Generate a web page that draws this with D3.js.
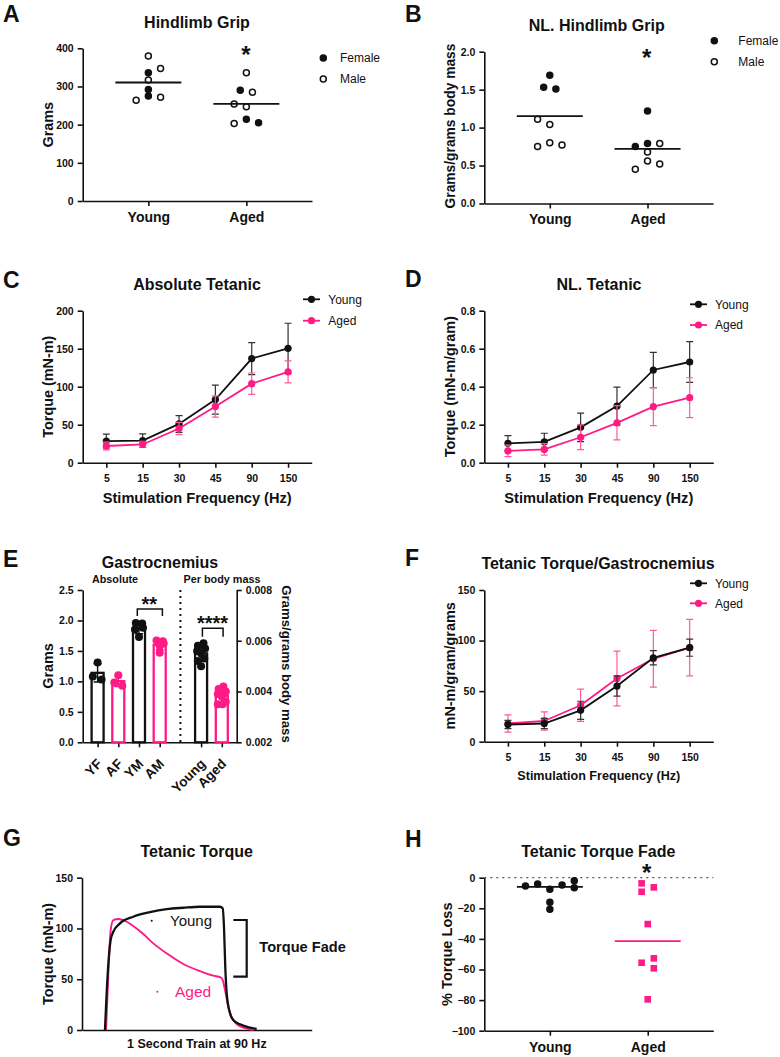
<!DOCTYPE html>
<html>
<head>
<meta charset="utf-8">
<title>Young vs aged muscle function</title>
<script src="https://cdn.jsdelivr.net/npm/d3@7/dist/d3.min.js"></script>
<style>
  body { margin: 0; background: #fff; overflow: hidden; }
  text { font-family: "Liberation Sans", Arial, sans-serif; }
  .axis path, .axis line { stroke: #111; stroke-width: 1.6px; }
  .axis text { font-family: "Liberation Sans", Arial, sans-serif; font-size: 10.5px; font-weight: bold; fill: #111; }
  .axis text.cat { font-size: 14px; }
  .axis text.rot { font-size: 13.6px; }
</style>
</head>
<body>
<svg id="fig" width="780" height="1057"></svg>
<script>
// ---- values ----
const groups = ["Young", "Aged"];
const freqs = ["5", "15", "30", "45", "90", "150"];

// A: hindlimb grip (grams), one value per mouse
const gripYoung     = [380, 336, 347, 317, 292, 275, 264, 272];
const gripYoungSex  = ["M", "F", "M", "M", "F", "F", "M", "M"];
const gripYoungSlot = [0, 0, 1, 0, 0, 0, -1, 1];
const gripAged      = [336, 290, 285, 254, 247, 203, 214, 205];
const gripAgedSex   = ["M", "F", "M", "M", "M", "M", "F", "F"];
const gripAgedSlot  = [0, -0.5, 0.5, -1, 0, -1, 0, 1];

// B: grip normalised to body mass
const nlGripYoung     = [1.69, 1.53, 1.51, 1.11, 1.04, 0.75, 0.80, 0.77];
const nlGripYoungSex  = ["F", "F", "F", "M", "M", "M", "M", "M"];
const nlGripYoungSlot = [0, -0.5, 0.5, -1, 0, -1, 0, 1];
const nlGripAged      = [1.22, 0.75, 0.79, 0.79, 0.68, 0.45, 0.56, 0.52];
const nlGripAgedSex   = ["F", "F", "F", "M", "M", "M", "M", "M"];
const nlGripAgedSlot  = [0, -1, 0, 1, 0, -1, 0, 1];

// C: absolute tetanic torque (mN-m), mean and SD per frequency
const absYoungMean = [28.5, 29, 51, 83, 137, 150.5];
const absYoungSD   = [9, 9, 11, 19, 21, 33];
const absAgedMean  = [22, 24, 45, 74, 104, 119.5];
const absAgedSD    = [5, 4, 8, 14, 14, 14.5];

// D: normalised tetanic torque (mN-m/gram)
const nlYoungMean = [0.102, 0.11, 0.186, 0.298, 0.488, 0.53];
const nlYoungSD   = [0.04, 0.045, 0.075, 0.1, 0.093, 0.107];
const nlAgedMean  = [0.062, 0.07, 0.134, 0.21, 0.295, 0.342];
const nlAgedSD    = [0.03, 0.03, 0.065, 0.09, 0.1, 0.105];

// E: gastrocnemius mass
const gastroCats = ["YF", "AF", "YM", "AM", "Young", "Aged"];
const gastroYF = [1.31, 1.08, 1.03];
const gastroAF = [1.10, 0.98, 0.93];
const gastroYM = [1.96, 1.95, 1.88, 1.85, 1.73];
const gastroAM = [1.67, 1.66, 1.62, 1.58, 1.47];
const gastroYoungNL = [0.0059, 0.0058, 0.0057, 0.0056, 0.0055, 0.0053, 0.0052, 0.0050];
const gastroAgedNL  = [0.0042, 0.0041, 0.0040, 0.0039, 0.0038, 0.0036, 0.0035, 0.0035];
const gastroYFSlot = [0, -0.6, 0.5];
const gastroAFSlot = [0, -0.5, 0.5];
const gastroYMSlot = [-0.4, 0.4, 0.5, -0.5, 0];
const gastroAMSlot = [-0.4, 0.4, 0.5, 0, 0];
const gastroYoungSlot = [0.3, -0.4, 0.5, -0.5, 0, 0.4, -0.4, 0];
const gastroAgedSlot  = [0.2, -0.4, 0.5, -0.5, 0, 0.5, -0.5, 0.1];

// F: tetanic torque per gastrocnemius mass
const perGYoungMean = [17, 18, 31, 55, 83, 93];
const perGYoungSD   = [4, 5, 9, 10, 7, 8.5];
const perGAgedMean  = [18, 20.5, 36, 62.5, 82, 93];
const perGAgedSD    = [8.5, 9, 16, 27, 28, 28];

// G: representative torque traces (time s, torque mN-m)
const traceYoungT      = [0.19, 0.215, 0.237, 0.259, 0.314, 0.424, 0.562, 0.70, 0.838, 0.976, 1.141, 1.164, 1.175, 1.185, 1.197, 1.224, 1.251, 1.307, 1.39, 1.445];
const traceYoungTorque = [0, 60, 88.6, 96.8, 105, 111.5, 116, 119, 120.4, 121.4, 121.4, 119.7, 99.7, 62.3, 36, 16.4, 9.8, 5.6, 2.3, 1];
const traceAgedT       = [0.199, 0.218, 0.237, 0.259, 0.30, 0.37, 0.424, 0.507, 0.59, 0.70, 0.838, 0.976, 1.086, 1.147, 1.164, 1.183, 1.21, 1.238, 1.279, 1.334, 1.417];
const traceAgedTorque  = [0, 55.8, 98.4, 108.3, 109.3, 106.6, 102.4, 94.5, 85.3, 75.5, 65, 58, 53.5, 51.9, 49.2, 39.4, 23, 13, 5.9, 2.3, 0];

// H: tetanic torque fade (% loss)
const fadeYoung     = [-5.4, -4.1, -7.6, -16.1, -20.7, -4.8, -2.0, -6.5];
const fadeYoungSlot = [-2, -1, 0, 0, 0, 1, 2, 2];
const fadeAged      = [-3.7, -9.2, -6.3, -30.3, -55.6, -52.7, -59.2, -79.5];
const fadeAgedSlot  = [-0.5, -0.5, 0.5, 0, -0.5, 0.5, 0.5, 0];

const PINK = "#ff1a85";
const INK = "#111";
const svg = d3.select("#fig");

function addText(x, y, s, size, opt = {}) {
    const t = svg.append("text")
        .attr("x", x).attr("y", y).attr("dy", opt.dy || "0.35em")
        .attr("text-anchor", opt.anchor || "middle")
        .style("font-size", size + "px")
        .style("font-weight", opt.weight || "bold")
        .attr("fill", opt.fill || INK)
        .text(s);
    if (opt.rotate) t.attr("transform", `rotate(${opt.rotate},${x},${y})`);
    return t;
}

// asterisk placed by the centre of the glyph
function star(x, cy, s, size) {
    svg.append("text").attr("x", x).attr("y", cy + size * 0.56)
        .attr("text-anchor", "middle").style("font-size", size + "px")
        .style("font-weight", "bold").attr("fill", INK).text(s);
}

function sexLegend(dotX, textX, y1, y2) {
    [[y1, INK, "Female"], [y2, "#fff", "Male"]].forEach(([y, fill, name]) => {
        svg.append("circle").attr("cx", dotX).attr("cy", y).attr("r", 3)
            .attr("fill", fill).attr("stroke", INK).attr("stroke-width", 1.5);
        addText(textX, y, name, 12, { anchor: "start", weight: "normal" });
    });
}

function lineLegend(x0, tx, ys, series) {
    series.forEach((s, i) => {
        svg.append("line").attr("x1", x0).attr("x2", x0 + 17)
            .attr("y1", ys[i]).attr("y2", ys[i])
            .attr("stroke", s.color).attr("stroke-width", 1.8);
        svg.append("circle").attr("cx", x0 + 8.5).attr("cy", ys[i]).attr("r", 3.6).attr("fill", s.color);
        addText(tx, ys[i], s.name, 12, { anchor: "start", weight: "normal" });
    });
}

// scatter with centre line (A, B, H)
function dotPanel(p) {
    const x = d3.scalePoint().domain(groups).range([p.left, p.right]).padding(0.67);
    const y = d3.scaleLinear().domain(p.yDomain).range([p.bottom, p.top]);

    if (p.zeroLine) {
        svg.append("line").attr("x1", p.left).attr("x2", p.right)
            .attr("y1", y(0)).attr("y2", y(0))
            .attr("stroke", "#555").attr("stroke-width", 1.3).attr("stroke-dasharray", "2,4");
    }

    svg.append("g").attr("class", "axis")
        .attr("transform", `translate(${p.left},0)`)
        .call(d3.axisLeft(y).tickValues(p.yTicks).tickFormat(d3.format(p.fmt))
            .tickSize(5).tickSizeOuter(0).tickPadding(4));
    svg.append("g").attr("class", "axis")
        .attr("transform", `translate(0,${p.bottom})`)
        .call(d3.axisBottom(x).tickSize(5).tickSizeOuter(0).tickPadding(6))
        .selectAll("text").attr("class", "cat");

    p.series.forEach(s => {
        const cx = x(s.group);
        const g = svg.append("g");
        const pts = s.values.map((v, i) => ({
            v, open: s.sex ? s.sex[i] === "M" : false, dx: s.slot[i] * 12.2
        }));
        if (s.shape === "square") {
            g.selectAll("rect").data(pts).join("rect")
                .attr("x", d => cx + d.dx - 3.3).attr("y", d => y(d.v) - 3.3)
                .attr("width", 6.6).attr("height", 6.6).attr("fill", s.color);
        } else {
            g.selectAll("circle").data(pts).join("circle")
                .attr("cx", d => cx + d.dx).attr("cy", d => y(d.v)).attr("r", 3)
                .attr("fill", d => d.open ? "#fff" : s.color)
                .attr("stroke", s.color).attr("stroke-width", 1.5);
        }
        const c = s.center(s.values);
        g.append("line")
            .attr("x1", cx - 33).attr("x2", cx + 33)
            .attr("y1", y(c)).attr("y2", y(c))
            .attr("stroke", s.color).attr("stroke-width", 1.8);
    });
    return { x, y };
}

// mean +/- SD line charts (C, D, F)
function linePanel(p) {
    const x = d3.scalePoint().domain(freqs).range([p.left, p.right]).padding(0.65);
    const y = d3.scaleLinear().domain([0, p.yMax]).range([p.bottom, p.top]);

    svg.append("g").attr("class", "axis")
        .attr("transform", `translate(${p.left},0)`)
        .call(d3.axisLeft(y).tickValues(p.yTicks).tickFormat(d3.format(p.fmt))
            .tickSize(5).tickSizeOuter(0).tickPadding(4));
    svg.append("g").attr("class", "axis")
        .attr("transform", `translate(0,${p.bottom})`)
        .call(d3.axisBottom(x).tickSize(5).tickSizeOuter(0).tickPadding(6.5));

    p.series.forEach(s => {
        const rows = freqs.map((f, i) => ({ f, m: s.mean[i], sd: s.sd[i] }));
        const g = svg.append("g");
        g.selectAll("path.eb").data(rows).join("path")
            .attr("class", "eb")
            .attr("d", d => {
                const cx = x(d.f), hi = y(d.m + d.sd), lo = y(d.m - d.sd);
                return `M${cx},${lo}V${hi}M${cx - 3.5},${hi}h7M${cx - 3.5},${lo}h7`;
            })
            .attr("fill", "none").attr("stroke", s.errColor).attr("stroke-width", 1.2);
        g.append("path").datum(rows)
            .attr("d", d3.line().x(d => x(d.f)).y(d => y(d.m)))
            .attr("fill", "none").attr("stroke", s.color).attr("stroke-width", 1.8);
        g.selectAll("circle").data(rows).join("circle")
            .attr("cx", d => x(d.f)).attr("cy", d => y(d.m)).attr("r", 3.6)
            .attr("fill", s.color);
    });

    addText((p.left + p.right) / 2, p.bottom + p.xTitleGap, "Stimulation Frequency (Hz)", p.xTitleSize);
    return { x, y };
}

// ---------- A ----------
addText(3, 14, "A", 23, { anchor: "start" });
addText(197, 22.5, "Hindlimb Grip", 16);
addText(48, 124.7, "Grams", 14.4, { rotate: -90 });
dotPanel({
    left: 82.7, right: 312, top: 48.3, bottom: 201,
    yDomain: [0, 400], yTicks: [0, 100, 200, 300, 400], fmt: "d",
    series: [
        { group: "Young", values: gripYoung, sex: gripYoungSex, slot: gripYoungSlot, color: INK, center: d3.mean },
        { group: "Aged", values: gripAged, sex: gripAgedSex, slot: gripAgedSlot, color: INK, center: d3.mean }
    ]
});
star(246, 50, "*", 24);
sexLegend(323.3, 340, 58, 79);

// ---------- B ----------
addText(405, 14, "B", 23, { anchor: "start" });
addText(596.7, 25.3, "NL. Hindlimb Grip", 16);
addText(450, 126, "Grams/grams body mass", 13.8, { rotate: -90 });
dotPanel({
    left: 484.3, right: 713, top: 51.7, bottom: 203.5,
    yDomain: [0, 2], yTicks: [0, 0.5, 1, 1.5, 2], fmt: ".1f",
    series: [
        { group: "Young", values: nlGripYoung, sex: nlGripYoungSex, slot: nlGripYoungSlot, color: INK, center: d3.mean },
        { group: "Aged", values: nlGripAged, sex: nlGripAgedSex, slot: nlGripAgedSlot, color: INK, center: d3.mean }
    ]
});
star(646.7, 53, "*", 24);
sexLegend(714.3, 738.3, 40.7, 61.7);

// ---------- C ----------
addText(3, 280, "C", 23, { anchor: "start" });
addText(197, 284.2, "Absolute Tetanic", 16);
addText(48, 386.7, "Torque (mN-m)", 14.4, { rotate: -90 });
const seriesC = [
    { name: "Young", mean: absYoungMean, sd: absYoungSD, color: INK, errColor: "#333" },
    { name: "Aged", mean: absAgedMean, sd: absAgedSD, color: PINK, errColor: "#ff5a9f" }
];
linePanel({
    left: 82.7, right: 311.7, top: 310.7, bottom: 462.7,
    yMax: 200, yTicks: [0, 50, 100, 150, 200], fmt: "d",
    xTitleGap: 35, xTitleSize: 14.6,
    series: seriesC
});
lineLegend(303, 328.3, [299.3, 320.7], seriesC);

// ---------- D ----------
addText(405, 279, "D", 23, { anchor: "start" });
addText(599, 284.5, "NL. Tetanic", 16);
addText(450, 386.7, "Torque (mN-m/gram)", 14.4, { rotate: -90 });
const seriesD = [
    { name: "Young", mean: nlYoungMean, sd: nlYoungSD, color: INK, errColor: "#333" },
    { name: "Aged", mean: nlAgedMean, sd: nlAgedSD, color: PINK, errColor: "#ff5a9f" }
];
linePanel({
    left: 484.3, right: 713.3, top: 310.7, bottom: 462.7,
    yMax: 0.8, yTicks: [0, 0.2, 0.4, 0.6, 0.8], fmt: ".1f",
    xTitleGap: 35, xTitleSize: 14.6,
    series: seriesD
});
lineLegend(690, 715, [304.3, 325], seriesD);

// ---------- E ----------
function gastroPanel() {
    const left = 82.7, right = 236.7, top = 590, bottom = 742.3;
    const x = d3.scalePoint().domain(["YF", "AF", "YM", "AM", "gap", "Young", "Aged"])
        .range([left, right]).padding(0.72);
    const y = d3.scaleLinear().domain([0, 2.5]).range([bottom, top]);
    const y2 = d3.scaleLinear().domain([0.002, 0.008]).range([bottom, top]);

    svg.append("line").attr("x1", x("gap")).attr("x2", x("gap"))
        .attr("y1", top).attr("y2", bottom)
        .attr("stroke", INK).attr("stroke-width", 2).attr("stroke-dasharray", "2,4");

    svg.append("g").attr("class", "axis")
        .attr("transform", `translate(${left},0)`)
        .call(d3.axisLeft(y).tickValues([0, 0.5, 1, 1.5, 2, 2.5]).tickFormat(d3.format(".1f"))
            .tickSize(5).tickSizeOuter(0).tickPadding(4));
    svg.append("g").attr("class", "axis")
        .attr("transform", `translate(${right},0)`)
        .call(d3.axisRight(y2).tickValues([0.002, 0.004, 0.006, 0.008]).tickFormat(d3.format(".3f"))
            .tickSize(5).tickSizeOuter(0).tickPadding(4));
    svg.append("g").attr("class", "axis")
        .attr("transform", `translate(0,${bottom})`)
        .call(d3.axisBottom(x).tickValues(gastroCats).tickSize(5).tickSizeOuter(0))
        .selectAll("text").attr("class", "cat rot")
        .attr("text-anchor", "end").attr("y", 0).attr("dy", "0.35em")
        .attr("transform", "translate(1.5,19) rotate(-45)");

    const bars = [
        { cat: "YF", vals: gastroYF, slot: gastroYFSlot, color: INK, sc: y },
        { cat: "AF", vals: gastroAF, slot: gastroAFSlot, color: PINK, sc: y },
        { cat: "YM", vals: gastroYM, slot: gastroYMSlot, color: INK, sc: y },
        { cat: "AM", vals: gastroAM, slot: gastroAMSlot, color: PINK, sc: y },
        { cat: "Young", vals: gastroYoungNL, slot: gastroYoungSlot, color: INK, sc: y2 },
        { cat: "Aged", vals: gastroAgedNL, slot: gastroAgedSlot, color: PINK, sc: y2 }
    ];
    bars.forEach(b => {
        const m = d3.mean(b.vals), sd = d3.deviation(b.vals), cx = x(b.cat);
        const g = svg.append("g");
        g.append("rect").attr("x", cx - 6).attr("y", b.sc(m))
            .attr("width", 12).attr("height", bottom - b.sc(m))
            .attr("fill", "#fff").attr("stroke", b.color).attr("stroke-width", 2.3);
        const hi = b.sc(m + sd), lo = b.sc(m - sd);
        g.append("path")
            .attr("d", `M${cx},${lo}V${hi}M${cx - 4},${hi}h8M${cx - 4},${lo}h8`)
            .attr("fill", "none").attr("stroke", b.color).attr("stroke-width", 1.4);
        g.selectAll("circle").data(b.vals).join("circle")
            .attr("cx", (d, i) => cx + b.slot[i] * 8).attr("cy", d => b.sc(d))
            .attr("r", 4).attr("fill", b.color);
    });

    // significance brackets
    svg.append("path").attr("d", `M${x("YM") - 1.7},616V609H${x("AM") + 2.7}V616`)
        .attr("fill", "none").attr("stroke", INK).attr("stroke-width", 1.5);
    star((x("YM") + x("AM")) / 2, 600, "**", 20);
    svg.append("path").attr("d", `M${x("Young") + 1.3},636.7V628.3H${x("Aged") + 1.3}V636.7`)
        .attr("fill", "none").attr("stroke", INK).attr("stroke-width", 1.5);
    star((x("Young") + x("Aged")) / 2 + 1, 619, "****", 20);
}
addText(3, 559, "E", 23, { anchor: "start" });
addText(160, 562.5, "Gastrocnemius", 16);
addText(115, 579.5, "Absolute", 10.8);
addText(222, 579.5, "Per body mass", 10.8);
addText(48, 666, "Grams", 14.4, { rotate: -90 });
addText(286.5, 664, "Grams/grams body mass", 13.2, { rotate: 90 });
gastroPanel();

// ---------- F ----------
addText(405, 557.5, "F", 23, { anchor: "start" });
addText(598, 563, "Tetanic Torque/Gastrocnemius", 16);
addText(450, 665.8, "mN-m/gram/grams", 14.4, { rotate: -90 });
const seriesF = [
    { name: "Young", mean: perGYoungMean, sd: perGYoungSD, color: INK, errColor: "#333" },
    { name: "Aged", mean: perGAgedMean, sd: perGAgedSD, color: PINK, errColor: "#ff5a9f" }
];
linePanel({
    left: 484.3, right: 713.3, top: 590, bottom: 741.7,
    yMax: 150, yTicks: [0, 50, 100, 150], fmt: "d",
    xTitleGap: 34, xTitleSize: 12.6,
    series: [seriesF[1], seriesF[0]]
});
lineLegend(690, 715, [583.3, 603.3], seriesF);

// ---------- G ----------
function tracePanel() {
    const left = 82, right = 311.7, top = 877.7, bottom = 1030;
    const x = d3.scaleLinear().domain([0, 1.9]).range([left, right]);
    const y = d3.scaleLinear().domain([0, 150]).range([bottom, top]);

    svg.append("g").attr("class", "axis")
        .attr("transform", `translate(${left},0)`)
        .call(d3.axisLeft(y).tickValues([0, 50, 100, 150]).tickSize(5).tickSizeOuter(0).tickPadding(4));
    svg.append("g").attr("class", "axis")
        .attr("transform", `translate(0,${bottom})`)
        .call(d3.axisBottom(x).tickValues([]).tickSizeOuter(0));

    const line = d3.line().x(d => x(d[0])).y(d => y(d[1])).curve(d3.curveMonotoneX);
    svg.append("path").datum(d3.zip(traceAgedT, traceAgedTorque))
        .attr("d", line).attr("fill", "none").attr("stroke", PINK).attr("stroke-width", 1.9);
    svg.append("path").datum(d3.zip(traceYoungT, traceYoungTorque))
        .attr("d", line).attr("fill", "none").attr("stroke", INK).attr("stroke-width", 2.3);

    svg.append("circle").attr("cx", 151.7).attr("cy", 920.7).attr("r", 1).attr("fill", INK);
    addText(170, 920.7, "Young", 15, { anchor: "start", weight: "normal" });
    svg.append("circle").attr("cx", 157.3).attr("cy", 991.7).attr("r", 1).attr("fill", PINK);
    addText(175, 991.7, "Aged", 15.5, { anchor: "start", weight: "normal", fill: PINK });

    svg.append("path").attr("d", "M233.3,920H246.7V976.7H233.3")
        .attr("fill", "none").attr("stroke", INK).attr("stroke-width", 2.2);
    addText(259.3, 947.3, "Torque Fade", 14.6, { anchor: "start" });
    addText((left + right) / 2, 1043.3, "1 Second Train at 90 Hz", 12.5);
}
addText(3, 838, "G", 23, { anchor: "start" });
addText(196.7, 851.3, "Tetanic Torque", 16);
addText(48, 954, "Torque (mN-m)", 14.4, { rotate: -90 });
tracePanel();

// ---------- H ----------
addText(405, 839, "H", 23, { anchor: "start" });
addText(598.3, 851.3, "Tetanic Torque Fade", 16);
addText(447, 954.2, "% Torque Loss", 14.6, { rotate: -90 });
dotPanel({
    left: 484.3, right: 713.3, top: 877.7, bottom: 1030.7,
    yDomain: [-100, 0], yTicks: [0, -20, -40, -60, -80, -100], fmt: "d",
    zeroLine: true,
    series: [
        { group: "Young", values: fadeYoung, slot: fadeYoungSlot, color: INK, center: d3.median },
        { group: "Aged", values: fadeAged, slot: fadeAgedSlot, color: PINK, shape: "square", center: d3.median }
    ]
});
star(646.7, 867.5, "*", 24);
</script>
</body>
</html>
